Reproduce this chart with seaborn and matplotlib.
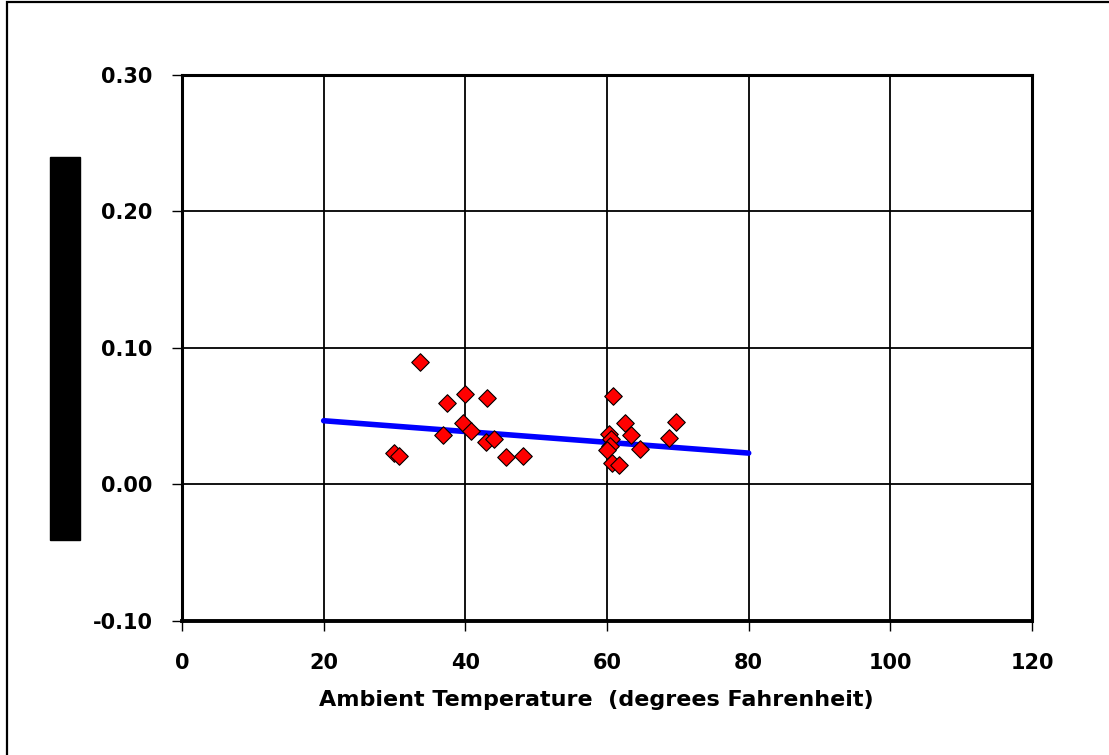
import numpy as np
import pandas as pd
import matplotlib
matplotlib.use('Agg')
import matplotlib.pyplot as plt
from matplotlib.patches import Rectangle
import seaborn as sns

# ── data ────────────────────────────────────────────────────
temps = [29.9, 30.7, 33.6, 36.8, 37.4, 40.0, 39.7, 40.8, 43.0, 42.9,
         44.0, 45.8, 48.1, 60.8, 60.3, 60.6, 60.4, 60.0, 60.7, 61.7,
         62.6, 63.4, 64.6, 68.8, 69.7]
rates = [0.023, 0.021, 0.090, 0.036, 0.060, 0.066, 0.045, 0.039, 0.063, 0.031,
         0.033, 0.020, 0.021, 0.065, 0.037, 0.033, 0.028, 0.025, 0.016, 0.014,
         0.045, 0.036, 0.026, 0.034, 0.046]
fit_x = [20, 80]
fit_y = [0.0467, 0.0230]

x_ticks = [0, 20, 40, 60, 80, 100, 120]
y_ticks = [-0.10, 0.00, 0.10, 0.20, 0.30]

pts = pd.DataFrame({'temp': temps, 'rate': rates})
fit = pd.DataFrame({'temp': fit_x, 'rate': fit_y})

sns.set_style('white')
plt.rcParams['font.family'] = ['DejaVu Sans']
plt.rcParams['text.color'] = 'black'
plt.rcParams['xtick.color'] = 'black'
plt.rcParams['ytick.color'] = 'black'
plt.rcParams['axes.labelcolor'] = 'black'

fig = plt.figure(figsize=(11.09, 7.55), dpi=100)
ax = fig.add_axes([0.1641, 0.1775, 0.7665, 0.7232])

sns.lineplot(data=fit, x='temp', y='rate', color='#0000FF', lw=4, ax=ax, zorder=3)
sns.scatterplot(data=pts, x='temp', y='rate', marker='D', s=80, color='#FF0000',
                edgecolor='black', linewidth=0.8, ax=ax, zorder=4)

ax.set_xlim(0, 120)
ax.set_ylim(-0.10, 0.30)
ax.set_xticks(x_ticks)
ax.set_yticks(y_ticks)
ax.set_xticklabels([f'{v:d}' for v in x_ticks], fontsize=15, fontweight='bold')
ax.set_yticklabels([f'{v:.2f}' for v in y_ticks], fontsize=15, fontweight='bold')
ax.grid(True, color='black', lw=1.3)
ax.set_axisbelow(True)
for s in ax.spines.values():
    s.set_visible(True)
    s.set_color('black')
    s.set_linewidth(2.2)
ax.spines['bottom'].set_linewidth(2.8)
ax.tick_params(axis='both', direction='out', length=7, width=1, color='black',
               bottom=True, left=True)
ax.tick_params(axis='y', pad=14)
ax.tick_params(axis='x', pad=16)
ax.set_xlabel('Ambient Temperature  (degrees Fahrenheit)', fontsize=16,
              fontweight='bold', va='top')
ax.xaxis.set_label_coords(0.487, -0.126)
ax.set_ylabel('')

# redacted y label block and outer frame
fig.patches.append(Rectangle((50 / 1109, 1 - 540 / 755), 30 / 1109, 383 / 755,
                             transform=fig.transFigure, color='black', zorder=5))
fig.patches.append(Rectangle((6.5 / 1109, -0.05), 1.1, 1.05 - 2.5 / 755,
                             transform=fig.transFigure, fill=False,
                             edgecolor='black', lw=1.6, zorder=5))

fig.savefig('out.png', dpi=100)
